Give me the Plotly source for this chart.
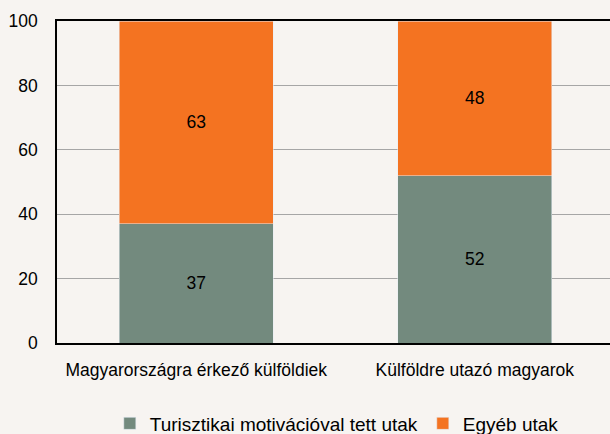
import plotly.graph_objects as go

categories = ["Magyarországra érkező külföldiek", "Külföldre utazó magyarok"]
turisztikai = [37, 52]
egyeb = [63, 48]
series_names = ["Turisztikai motivációval tett utak", "Egyéb utak"]
y_ticks = [0, 20, 40, 60, 80, 100]

BG = "#f7f4f1"
GREEN = "#738a7e"
ORANGE = "#f47321"
FONT = "Liberation Sans, Arial, sans-serif"
FS = 17.5

fig = go.Figure()
fig.add_trace(go.Bar(x=categories, y=turisztikai, name=series_names[0], marker_color=GREEN,
                     text=turisztikai, textposition="inside", insidetextanchor="middle",
                     textfont=dict(color="black", size=FS, family=FONT)))
fig.add_trace(go.Bar(x=categories, y=egyeb, name=series_names[1], marker_color=ORANGE,
                     text=egyeb, textposition="inside", insidetextanchor="middle",
                     textfont=dict(color="black", size=FS, family=FONT)))

fig.update_layout(
    barmode="stack",
    bargap=0.447,
    width=620, height=434,
    margin=dict(l=57, r=0, t=21, b=91, autoexpand=False),
    paper_bgcolor=BG, plot_bgcolor=BG,
    font=dict(family=FONT, size=FS, color="black"),
    showlegend=True,
    legend=dict(orientation="h", x=0.497, xanchor="center", y=-0.25, yanchor="middle",
                font=dict(size=19), itemwidth=30,
                traceorder="normal", bgcolor="rgba(0,0,0,0)"),
)
fig.update_xaxes(range=[-0.5, 1.5215], showline=True, mirror=True, linecolor="black", linewidth=1.5,
                 ticks="", tickfont=dict(size=FS), ticklabelstandoff=10, showgrid=False, automargin=False)
fig.update_yaxes(range=[0, 100], tickvals=y_ticks, showline=True, linecolor="black", linewidth=1.5,
                 showgrid=True, gridcolor="#a6a6a6", gridwidth=1, zeroline=False,
                 ticks="", tickfont=dict(size=FS), ticklabelstandoff=14, automargin=False)

fig.write_html("out.html", config={"displayModeBar": False},
               post_script="document.body.style.margin='0';document.body.style.overflow='hidden';")
